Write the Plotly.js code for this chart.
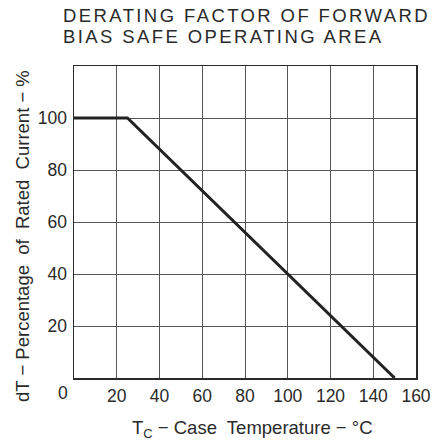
<!DOCTYPE html>
<html><head><meta charset="utf-8">
<script src="https://cdn.plot.ly/plotly-3.0.1.min.js"></script>
<style>html,body{margin:0;padding:0;background:#fff;}#chart{width:439px;height:447px;}</style>
</head><body><div id="chart"></div>
<script>
const caseTemp = [0, 25, 150];
const ratedPct = [100, 100, 0];
const xTicks = [20, 40, 60, 80, 100, 120, 140, 160];
const yTicks = [20, 40, 60, 80, 100];
const titleLines = ["DERATING FACTOR OF FORWARD", "BIAS SAFE OPERATING AREA"];
const xTitle = "T<sub>C</sub> − Case  Temperature − °C";
const yTitle = "dT − Percentage  of  Rated  Current − %";

const ink = "#2a2a2a";
const fam = "Liberation Sans, Arial, sans-serif";
const fnt = {family: fam, size: 17, color: ink};
const big = {family: fam, size: 18.5, color: ink};

const trace = {x: caseTemp, y: ratedPct, mode: "lines", line: {color: "#222", width: 3}, hoverinfo: "skip"};

const layout = {
  width: 439, height: 447,
  margin: {l: 74, r: 23, t: 66, b: 69},
  paper_bgcolor: "#fff", plot_bgcolor: "#fff",
  showlegend: false,
  font: fnt,
  xaxis: {range: [0, 160], tickvals: xTicks, ticktext: xTicks.map(String), ticks: "",
          showgrid: true, gridcolor: "#555", gridwidth: 1, zeroline: false,
          showline: true, linecolor: ink, linewidth: 1.5, mirror: true,
          tickfont: {family: fam, size: 17.5, color: ink}, ticklabelstandoff: 1},
  yaxis: {range: [0, 120], tickvals: yTicks, ticktext: yTicks.map(String), ticks: "",
          showgrid: true, gridcolor: "#555", gridwidth: 1, zeroline: false,
          showline: true, linecolor: ink, linewidth: 1.5, mirror: true,
          tickfont: {family: fam, size: 17.5, color: ink}, ticklabelstandoff: 2},
  annotations: [
    {text: '<span style="letter-spacing:2.4px">' + titleLines[0] + '</span>', xref: "paper", yref: "paper",
     x: (61 - 74) / 342, y: 1 + (66 - 28) / 312, xanchor: "left", yanchor: "bottom", showarrow: false,
     font: big},
    {text: '<span style="letter-spacing:2.4px">' + titleLines[1] + '</span>', xref: "paper", yref: "paper",
     x: (61 - 74) / 342, y: 1 + (66 - 49) / 312, xanchor: "left", yanchor: "bottom", showarrow: false,
     font: big},
    {text: yTitle, xref: "paper", yref: "paper", x: (22 - 74) / 342, y: (378 - 236) / 312,
     xanchor: "center", yanchor: "middle", textangle: -90, showarrow: false, font: big},
    {text: xTitle, xref: "paper", yref: "paper", x: (252 - 74) / 342, y: (378 - 429) / 312,
     xanchor: "center", yanchor: "middle", showarrow: false, font: big},
    {text: "0", xref: "paper", yref: "paper", x: (63 - 74) / 342, y: (378 - 393) / 312,
     xanchor: "center", yanchor: "middle", showarrow: false, font: {family: fam, size: 17.5, color: ink}}
  ]
};
Plotly.newPlot("chart", [trace], layout, {displayModeBar: false, staticPlot: true});
</script></body></html>
